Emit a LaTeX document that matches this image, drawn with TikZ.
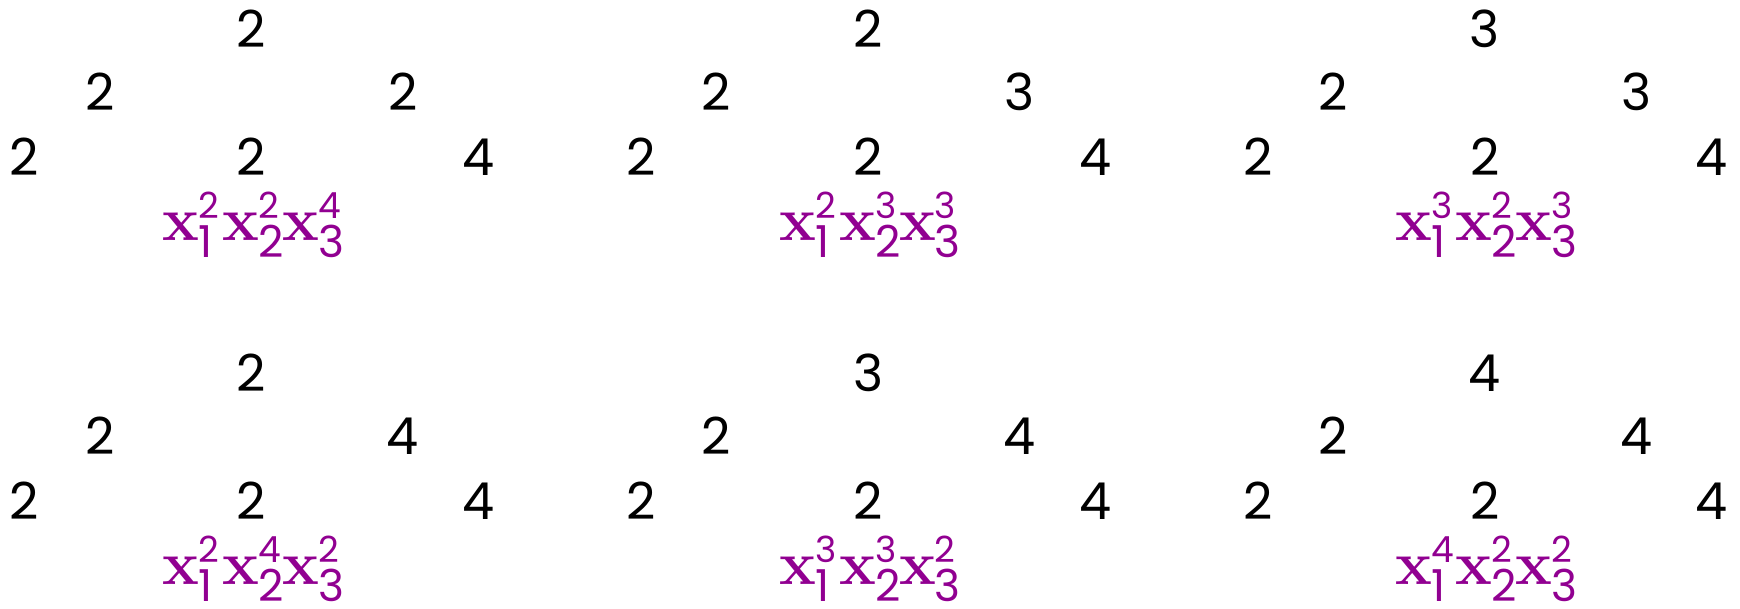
\documentclass[tikz,border=0pt]{standalone}
\usepackage{fontspec}
\newfontfamily\digf{Poppins}
\definecolor{mono}{RGB}{145,0,145}
\newcommand\supf{\digf\fontsize{36}{36}\selectfont}
\newcommand\subf{\digf\fontsize{44}{44}\selectfont}
\newcommand\xp[2]{{\bfseries x}\kern-1pt\makebox[24pt][l]{\rlap{\raisebox{22pt}{\supf #1}}\raisebox{-17pt}{\subf #2}}}
\begin{document}
\begin{tikzpicture}[x=1pt,y=-1pt,
  num/.style={anchor=base,inner sep=0pt,font=\digf\fontsize{51}{51}\selectfont},
  mon/.style={anchor=base,inner sep=0pt,text=mono,font=\fontsize{62}{62}\selectfont}]
\useasboundingbox (0,0) rectangle (1740,608);
\foreach \n/\cx/\by/\t/\r/\p/\q/\s in {
  a/251.5/47/2/2/2/2/4,
  b/868.1/47/2/3/2/3/3,
  c/1484.7/47/3/3/3/2/3,
  d/251.5/391/2/4/2/4/2,
  e/868.1/391/3/4/3/3/2,
  f/1484.7/391/4/4/4/2/2}{
  \node[num] (\n-top) at (\cx,\by) {\t};
  \node[num] (\n-ml) at (\cx-151.5,\by+63) {2};
  \node[num] (\n-mr) at (\cx+151.5,\by+63) {\r};
  \node[num] (\n-bl) at (\cx-227,\by+128) {2};
  \node[num] (\n-bc) at (\cx,\by+128) {2};
  \node[num] (\n-br) at (\cx+227,\by+128) {4};
  \node[mon] (\n-mono) at (\cx+1,\by+193) {\xp{\p}{1}\xp{\q}{2}\xp{\s}{3}};
}
\end{tikzpicture}
\end{document}
